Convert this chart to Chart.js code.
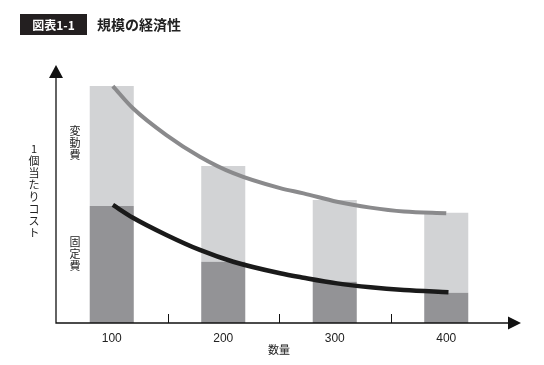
<!DOCTYPE html>
<html lang="ja">
<head>
<meta charset="UTF-8">
<title>規模の経済性</title>
<script src="https://cdn.jsdelivr.net/npm/chart.js"></script>
<style>
  html, body { margin: 0; padding: 0; background: #fff; }
</style>
</head>
<body>
<canvas id="c" width="544" height="365"></canvas>
<script>
// データ（1個当たりコスト、目盛りなしの相対値）
const quantities = ['100', '200', '300', '400'];
const fixedCost = [47.6, 24.9, 16.8, 12.3];
const variableCost = [48.7, 38.9, 33.2, 32.5];
// 曲線（平均総費用・平均固定費）
const curveQty = [101, 119, 149, 179, 209, 251, 272, 302, 332, 362, 400];
const totalCurve = [96.3, 87.3, 76.4, 67.6, 60.9, 54.8, 52.7, 49.3, 46.9, 45.3, 44.6];
const fixedCurveQty = [101, 119, 149, 179, 209, 251, 272, 302, 332, 362, 402];
const fixedCurve = [48.0, 42.8, 35.8, 29.7, 24.9, 20.2, 18.4, 16.1, 14.5, 13.4, 12.5];
const dividers = [150, 250, 350];

const JP = '"Noto Sans CJK JP", sans-serif';
const NUM = '"Liberation Sans", Arial, sans-serif';

const pts = (xs, ys) => xs.map((x, i) => ({ x: x, y: ys[i] }));

// 矢印・区切り線・縦書きラベル・見出し
const decor = {
  id: 'decor',
  afterDraw(chart) {
    const { ctx, chartArea: a } = chart;
    const x2 = chart.scales.x2;
    ctx.save();
    ctx.strokeStyle = '#111';
    ctx.fillStyle = '#111';
    ctx.lineWidth = 1.3;
    // 軸
    ctx.beginPath();
    ctx.moveTo(a.left, a.top);
    ctx.lineTo(a.left, a.bottom);
    ctx.lineTo(a.right + 7, a.bottom);
    ctx.stroke();
    // 矢印
    ctx.beginPath();
    ctx.moveTo(a.left, a.top - 12);
    ctx.lineTo(a.left - 7, a.top + 1);
    ctx.lineTo(a.left + 7, a.top + 1);
    ctx.closePath();
    ctx.fill();
    ctx.beginPath();
    ctx.moveTo(a.right + 19, a.bottom);
    ctx.lineTo(a.right + 6, a.bottom - 6.5);
    ctx.lineTo(a.right + 6, a.bottom + 6.5);
    ctx.closePath();
    ctx.fill();
    // 区切り目盛り
    ctx.lineWidth = 1;
    dividers.forEach(v => {
      const px = Math.round(x2.getPixelForValue(v)) + 0.5;
      ctx.beginPath();
      ctx.moveTo(px, a.bottom - 9);
      ctx.lineTo(px, a.bottom);
      ctx.stroke();
    });
    // 縦書き
    const vtext = (s, x, y, step) => {
      ctx.font = '11px ' + JP;
      ctx.fillStyle = '#222';
      ctx.textAlign = 'center';
      ctx.textBaseline = 'middle';
      [...s].forEach((ch, i) => ctx.fillText(ch, x, y + i * step));
    };
    vtext('変動費', 75, 131, 12);
    vtext('固定費', 75, 242, 12);
    vtext('1個当たりコスト', 34, 149, 12);
    // 見出し
    ctx.fillStyle = '#231f20';
    ctx.fillRect(20, 14, 67, 21);
    ctx.fillStyle = '#fff';
    ctx.font = 'bold 12px ' + JP;
    ctx.textAlign = 'center';
    ctx.textBaseline = 'middle';
    ctx.fillText('図表1-1', 53.5, 25);
    ctx.fillStyle = '#222';
    ctx.font = 'bold 14px ' + JP;
    ctx.textAlign = 'left';
    ctx.fillText('規模の経済性', 97, 25);
    ctx.restore();
  }
};

new Chart(document.getElementById('c'), {
  data: {
    labels: quantities,
    datasets: [
      {
        type: 'bar', label: '固定費', data: fixedCost,
        backgroundColor: '#939396', order: 2, grouped: false,
        barPercentage: 0.395, categoryPercentage: 1
      },
      {
        type: 'bar', label: '変動費', data: variableCost,
        backgroundColor: '#d2d3d5', order: 2, grouped: false,
        barPercentage: 0.395, categoryPercentage: 1
      },
      {
        type: 'line', label: '平均総費用', data: pts(curveQty, totalCurve),
        xAxisID: 'x2', yAxisID: 'y2', borderColor: '#8a8a8c', borderWidth: 4,
        pointRadius: 0, tension: 0.4, cubicInterpolationMode: 'monotone', fill: false, order: 0
      },
      {
        type: 'line', label: '平均固定費', data: pts(fixedCurveQty, fixedCurve),
        xAxisID: 'x2', yAxisID: 'y2', borderColor: '#1a1a1a', borderWidth: 4.5,
        pointRadius: 0, tension: 0.4, cubicInterpolationMode: 'monotone', fill: false, order: 0
      }
    ]
  },
  options: {
    responsive: false,
    animation: false,
    layout: { padding: { left: 56, right: 42, top: 77, bottom: 0 } },
    plugins: { legend: { display: false }, tooltip: { enabled: false } },
    scales: {
      x: {
        type: 'category', offset: true, stacked: true,
        grid: { display: false, drawTicks: false },
        border: { display: false },
        ticks: { color: '#222', font: { family: NUM, size: 12 }, padding: 8 },
        title: { display: true, text: '数量', color: '#222', font: { family: JP, size: 11 }, padding: { top: 0, bottom: 9 } },
        afterFit: s => { s.height = 42; }
      },
      x2: { type: 'linear', min: 50, max: 450, display: false },
      y: { min: 0, max: 100, stacked: true, display: false },
      y2: { min: 0, max: 100, display: false }
    }
  },
  plugins: [decor]
});
</script>
</body>
</html>
